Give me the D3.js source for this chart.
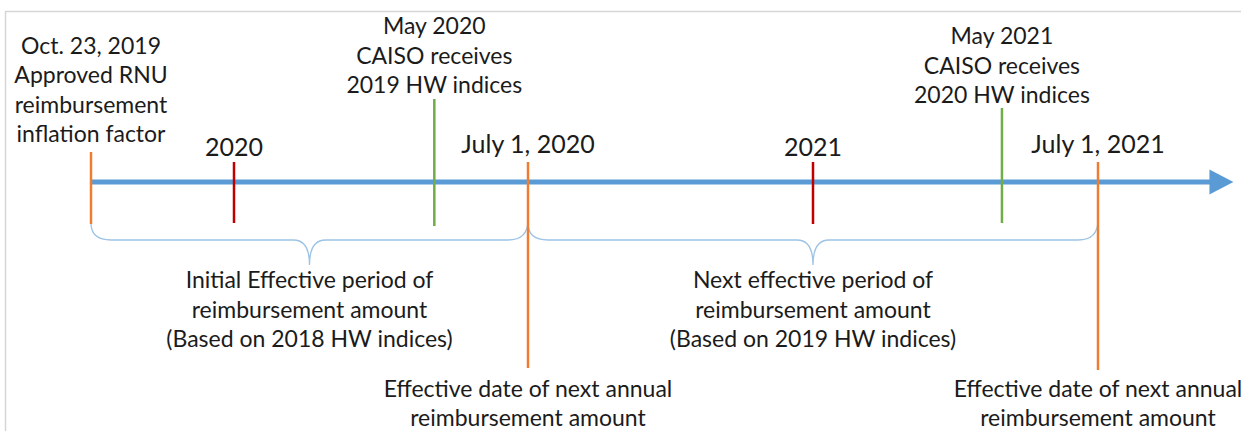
<!DOCTYPE html>
<html>
<head>
<meta charset="utf-8">
<script src="https://cdn.jsdelivr.net/npm/d3@7"></script>
<style>
  html, body { margin: 0; padding: 0; background: #fff; }
  svg text { font-family: Lato, "Open Sans", sans-serif; fill: #1b1b1b; }
</style>
</head>
<body>
<svg id="chart"></svg>
<script>
"use strict";

/*
*  DATA
*/

// timeline markers (dates, diagram is not drawn to scale)
var markerDates = ["2019-10-23", "2020-01-01", "2020-05-04", "2020-07-01", "2021-01-01", "2021-05-01", "2021-07-01"];
var markerKinds = ["effective", "year", "indices", "effective", "year", "indices", "effective"];
var markerLabels = [
  ["Oct. 23, 2019", "Approved RNU", "reimbursement", "inflation factor"],
  ["2020"],
  ["May 2020", "CAISO receives", "2019 HW indices"],
  ["July 1, 2020"],
  ["2021"],
  ["May 2021", "CAISO receives", "2020 HW indices"],
  ["July 1, 2021"]
];
var nextLabels = ["Effective date of next annual", "reimbursement amount"];

// effective periods under the axis
var periodStarts = ["2019-10-23", "2020-07-01"];
var periodEnds = ["2020-07-01", "2021-07-01"];
var periodLabels = [
  ["Initial Effective period of", "reimbursement amount", "(Based on 2018 HW indices)"],
  ["Next effective period of", "reimbursement amount", "(Based on 2019 HW indices)"]
];

// scale break points and end of arrow
var breakDates = ["2019-10-23", "2020-01-01", "2020-07-01", "2021-01-01", "2021-07-01"];
var axisEnd = "2021-09-25";

/*
*  LAYOUT
*/

var width = 1241,
    height = 431,
    axisY = 182;

var colors = { effective: "#ed7d31", year: "#c00000", indices: "#70ad47" };
// per marker: line top, line bottom, gap between label and line
var lineTop = [152, 162, 99, 162, 162, 108, 162];
var lineBottom = [224, 223, 226, 368, 224, 223, 370];
var labelGap = [10, 6, 6, 9, 6, 5, 9];
var bigLabel = { year: true, effective: true };

var parse = d3.timeParse("%Y-%m-%d");

var x = d3.scaleTime()
  .domain(breakDates.map(parse))
  .range([91, 234, 528, 813, 1098]);

drawChart();

/*
*  HELPERS
*/

function drawChart() {
  var svg = d3.select("#chart").attr("width", width).attr("height", height);

  // frame (left and top edge of the original picture)
  svg.append("path")
    .attr("d", "M5.5," + height + "V11.5H" + width)
    .attr("fill", "none")
    .attr("stroke", "#d6d6d6")
    .attr("stroke-width", 1.5);

  // axis with arrow head
  var x0 = x(parse(markerDates[0])),
      x1 = x(parse(axisEnd)),
      headLen = 24,
      headHalf = 12.5;

  svg.append("line")
    .attr("x1", x0).attr("x2", x1 - headLen + 1)
    .attr("y1", axisY).attr("y2", axisY)
    .attr("stroke", "#5b9bd5")
    .attr("stroke-width", 5);

  svg.append("path")
    .attr("d", "M" + (x1 - headLen) + "," + (axisY - headHalf) + "L" + x1 + "," + axisY + "L" + (x1 - headLen) + "," + (axisY + headHalf) + "Z")
    .attr("fill", "#5b9bd5");

  // braces for the effective periods
  var braceTop = 223, braceY = 240, braceTip = 265;
  periodStarts.forEach(function (s, i) {
    var a = x(parse(s)), b = x(parse(periodEnds[i])), m = (a + b) / 2;
    var r = 20, rm = 16;
    var d = "M" + a + "," + braceTop +
      "Q" + a + "," + braceY + " " + (a + r) + "," + braceY +
      "L" + (m - rm) + "," + braceY +
      "Q" + m + "," + braceY + " " + m + "," + braceTip +
      "Q" + m + "," + braceY + " " + (m + rm) + "," + braceY +
      "L" + (b - r) + "," + braceY +
      "Q" + b + "," + braceY + " " + b + "," + (braceTop - 3);
    svg.append("path")
      .attr("d", d)
      .attr("fill", "none")
      .attr("stroke", "#9dc3e6")
      .attr("stroke-width", 1.3);

    var t = svg.append("text")
      .attr("text-anchor", "middle")
      .attr("font-size", 23);
    periodLabels[i].forEach(function (line, k) {
      t.append("tspan").attr("x", m).attr("y", 288 + k * 29.5).text(line);
    });
  });

  // marker lines
  svg.selectAll(".marker")
    .data(markerDates)
    .enter().append("line")
    .attr("class", "marker")
    .attr("x1", function (d) { return x(parse(d)); })
    .attr("x2", function (d) { return x(parse(d)); })
    .attr("y1", function (d, i) { return lineTop[i]; })
    .attr("y2", function (d, i) { return lineBottom[i]; })
    .attr("stroke", function (d, i) { return colors[markerKinds[i]]; })
    .attr("stroke-width", 2.5);

  // labels above the markers
  markerDates.forEach(function (d, i) {
    var lines = markerLabels[i],
        cx = x(parse(d)),
        last = lineTop[i] - labelGap[i],
        big = lines.length === 1 && bigLabel[markerKinds[i]],
        lh = 29.5;
    var t = svg.append("text")
      .attr("text-anchor", "middle")
      .attr("font-size", big ? 25 : 23);
    lines.forEach(function (line, k) {
      t.append("tspan")
        .attr("x", cx)
        .attr("y", last - (lines.length - 1 - k) * lh)
        .text(line);
    });

    // labels below the effective date lines
    if (markerKinds[i] === "effective" && i > 0) {
      var b = svg.append("text")
        .attr("text-anchor", "middle")
        .attr("font-size", 23);
      nextLabels.forEach(function (line, k) {
        b.append("tspan")
          .attr("x", cx)
          .attr("y", 397 + k * 28.5)
          .text(line);
      });
    }
  });
}
</script>
</body>
</html>
